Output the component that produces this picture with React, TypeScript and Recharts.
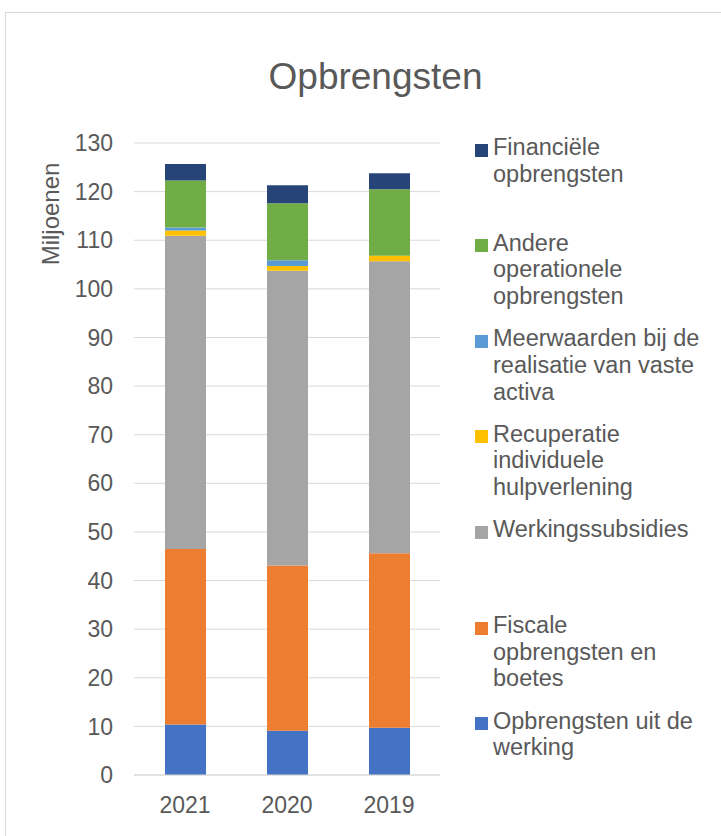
import React from 'react';
import { BarChart, Bar, XAxis, YAxis, CartesianGrid } from 'recharts';

const years = ['2021', '2020', '2019'];
const opbrengstenWerking = [10.4, 9.1, 9.7];
const fiscale = [36.1, 34.0, 35.9];
const werkingssubsidies = [64.4, 60.6, 60.1];
const recuperatie = [1.1, 1.0, 1.1];
const meerwaarden = [0.6, 1.2, 0.0];
const andere = [9.7, 11.7, 13.7];
const financiele = [3.4, 3.7, 3.3];
const yTicks = [0, 10, 20, 30, 40, 50, 60, 70, 80, 90, 100, 110, 120, 130];

const series = [
  { key: 'werking', name: 'Opbrengsten uit de\nwerking', values: opbrengstenWerking, color: '#4472C4' },
  { key: 'fiscale', name: 'Fiscale\nopbrengsten en\nboetes', values: fiscale, color: '#ED7D31' },
  { key: 'subsidies', name: 'Werkingssubsidies', values: werkingssubsidies, color: '#A5A5A5' },
  { key: 'recuperatie', name: 'Recuperatie\nindividuele\nhulpverlening', values: recuperatie, color: '#FFC000' },
  { key: 'meerwaarden', name: 'Meerwaarden bij de\nrealisatie van vaste\nactiva', values: meerwaarden, color: '#5B9BD5' },
  { key: 'andere', name: 'Andere\noperationele\nopbrengsten', values: andere, color: '#70AD47' },
  { key: 'financiele', name: 'Financiële\nopbrengsten', values: financiele, color: '#264478' },
];

const data = years.map((y, i) => {
  const row: Record<string, any> = { year: y };
  series.forEach((s) => { row[s.key] = s.values[i]; });
  return row;
});

const FONT = '"Liberation Sans", Arial, sans-serif';
const TEXT = '#595959';

export default function App() {
  return (
    <div style={{ position: 'fixed', inset: 0, overflow: 'hidden', background: '#fff', fontFamily: FONT }}>
      <div style={{ position: 'absolute', left: 5, top: 12, width: 760, height: 860, border: '1px solid #d9d9d9', boxSizing: 'border-box' }} />
      <div style={{ position: 'absolute', left: 0, top: 0 }}>
        <BarChart width={721} height={836} data={data} margin={{ top: 143, right: 281, bottom: 0, left: 0 }}>
          <CartesianGrid vertical={false} stroke="#d9d9d9" strokeWidth={1} />
          <XAxis
            dataKey="year"
            height={61}
            axisLine={{ stroke: '#d9d9d9' }}
            tickLine={false}
            tickSize={6}
            tickMargin={16}
            tick={{ fill: TEXT, fontSize: 23, fontFamily: FONT }}
          />
          <YAxis
            width={134}
            domain={[0, 130]}
            ticks={yTicks}
            interval={0}
            axisLine={false}
            tickLine={false}
            tickSize={6}
            tickMargin={15}
            tick={{ fill: TEXT, fontSize: 23, fontFamily: FONT }}
          />
          {series.map((s) => (
            <Bar key={s.key} dataKey={s.key} name={s.name} stackId="a" fill={s.color} barSize={41} isAnimationActive={false} />
          ))}
        </BarChart>
      </div>
      <svg style={{ position: 'absolute', left: 0, top: 0 }} width={721} height={836}>
        <text x={375.5} y={89} textAnchor="middle" fill={TEXT} fontSize={37} fontFamily={FONT}>Opbrengsten</text>
        <text x={0} y={0} transform="translate(59,214) rotate(-90)" textAnchor="middle" fill={TEXT} fontSize={24} fontFamily={FONT}>Miljoenen</text>
      </svg>
      <div style={{ position: 'absolute', left: 475, top: 134 }}>
        {[...series].reverse().map((s) => (
          <div key={s.key} style={{ height: 95.6, position: 'relative' }}>
            <div style={{ position: 'absolute', left: 0, top: 9.7, width: 13, height: 13, background: s.color }} />
            <div style={{ position: 'absolute', left: 18, top: 0, whiteSpace: 'pre', fontSize: 23.5, lineHeight: '26.7px', color: TEXT }}>{s.name}</div>
          </div>
        ))}
      </div>
    </div>
  );
}
